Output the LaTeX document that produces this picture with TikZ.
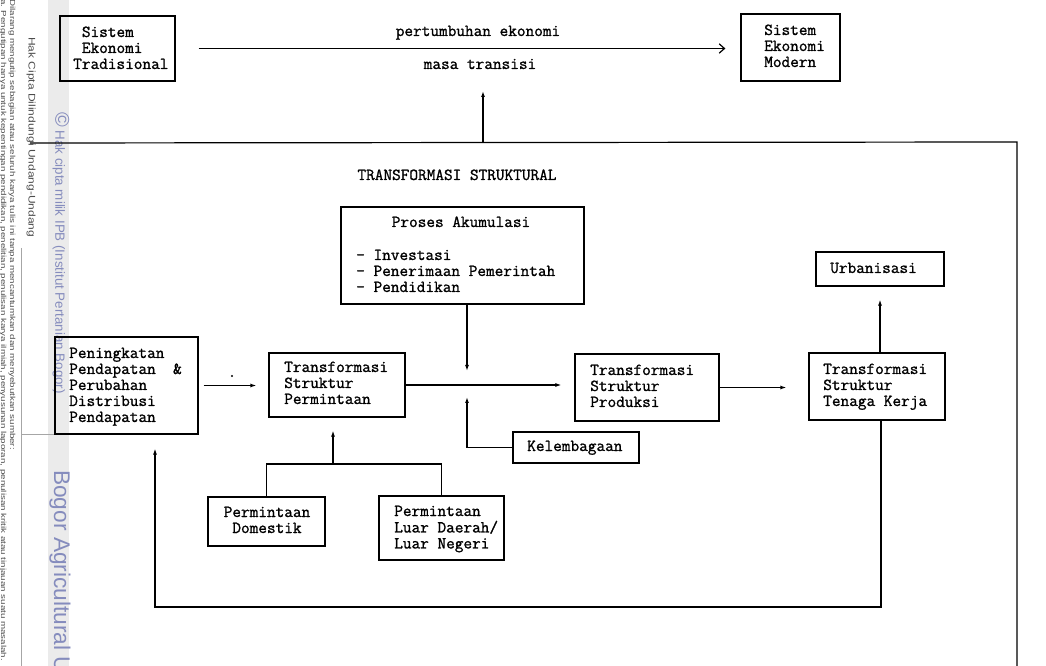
\documentclass[tikz,border=0pt]{standalone}
\usepackage{fontspec}
\newfontfamily\wmfont{Liberation Sans}
\newfontfamily\dgmono{Latin Modern Mono}[FakeBold=1.2]
\usetikzlibrary{arrows.meta,fit,calc}
\newcommand\dgfont{\dgmono\fontsize{12.6}{12}\selectfont}
\newcommand\ltab[1]{\begin{tabular}[t]{@{}l@{}}#1\end{tabular}}
\newcommand\ctab[1]{\begin{tabular}[t]{@{}c@{}}#1\end{tabular}}
\newcommand\squash[2]{\scalebox{1}[#1]{#2}}
\definecolor{wmblue}{rgb}{0.52,0.55,0.74}
\definecolor{wmgray}{gray}{0.3}
\tikzset{
 box/.style={draw, line width=0.9pt, inner sep=0pt},
 txt/.style={font=\dgfont, inner sep=0pt, anchor=base west},
 ctxt/.style={font=\dgfont, inner sep=0pt, anchor=base},
 conn/.style={line width=0.9pt},
 arr/.style={conn, -{Latex[length=4.5pt,width=3pt]}},
 wm/.style={font=\wmfont\fontsize{7.3}{8}\selectfont, text=wmgray, rotate=-90, anchor=west, inner sep=0pt},
}
\begin{document}
\begin{tikzpicture}[x=0.75pt,y=-0.75pt]
\useasboundingbox (0,0) rectangle (1046,666);
% watermark strip
\begin{scope}
\clip (0,0) rectangle (1046,666);
\fill[black!8] (48,0) rectangle (69,666);
\node[wm, font=\wmfont\fontsize{9}{9}\selectfont] (wm1) at (31,37) {\squash{0.8}{Hak Cipta Dilindungi Undang-Undang}};
\node[wm] (wm2) at (12,-1) {\squash{0.75}{Dilarang mengutip sebagian atau seluruh karya tulis ini tanpa mencantumkan dan menyebutkan sumber:}};
\node[wm] (wm3) at (3,-1) {\squash{0.75}{a. Pengutipan hanya untuk kepentingan pendidikan, penelitian, penulisan karya ilmiah, penyusunan laporan, penulisan kritik atau tinjauan suatu masalah.}};
\node[wm, font=\wmfont\fontsize{10}{10}\selectfont, text=wmblue] (wm4) at (61,112) {{\fontsize{15}{15}\selectfont\textcopyright}\ Hak cipta milik IPB (Institut Pertanian Bogor)};
\node[wm, font=\wmfont\fontsize{17}{17}\selectfont, text=wmblue] (wm5) at (60,470) {Bogor Agricultural University};
\draw[gray!70, line width=0.5pt] (21,248) coordinate (wl1) -- (21,666) coordinate (wl2);
\draw[gray!70, line width=0.5pt] (21,434) coordinate (wl3) -- (55,434) coordinate (wl4);
\end{scope}

% top level
\node[box, fit={(60,16) (175,81)}] (trad) {};
\node[box, fit={(741,14) (840,81)}] (modern) {};
\node[txt] (tradT) at (73,37) {\ltab{~Sistem\\~Ekonomi\\Tradisional}};
\node[txt] (modT) at (764,35) {\ltab{Sistem\\Ekonomi\\Modern}};
\draw[conn, -{Straight Barb[length=4pt,width=7pt]}, shorten <=17.25pt, shorten >=11.25pt] (trad.east) -- (modern.west |- trad.east);
\node[ctxt] (pe) at (478,36) {pertumbuhan ekonomi};
\node[ctxt] (mt) at (480,69) {masa transisi};

% frame
\coordinate (f1) at (30,143);
\coordinate (fr) at (483,143);
\coordinate (f2) at (1017,142);
\coordinate (f3) at (1017,666);
\draw[conn] (f1) -- (f2) -- (f3);
\coordinate (upT) at (483,91);
\draw[arr] (fr) -- (upT);

\node[ctxt] (ts) at (457,180) {TRANSFORMASI STRUKTURAL};

% boxes
\node[box, fit={(341,207) (584,304)}] (proses) {};
\node[ctxt] (prosesT) at (461,227) {Proses Akumulasi};
\node[txt] (prosesL) at (356,260) {\ltab{- Investasi\\- Penerimaan Pemerintah\\- Pendidikan}};

\node[box, fit={(816,252) (944,286)}] (urb) {};
\node[txt] (urbT) at (830,273) {Urbanisasi};

\node[box, fit={(55,337) (198,434)}] (pen) {};
\node[txt] (penT) at (69,358) {\ltab{Peningkatan\\Pendapatan~~\&\\Perubahan\\Distribusi\\Pendapatan}};

\node[box, fit={(269,353) (405,417)}] (perm) {};
\node[txt] (permT) at (284,372) {\ltab{Transformasi\\Struktur\\Permintaan}};

\node[box, fit={(575,354) (719,421)}] (prod) {};
\node[txt] (prodT) at (590,375) {\ltab{Transformasi\\Struktur\\Produksi}};

\node[box, fit={(809,353) (945,420)}] (tk) {};
\node[txt] (tkT) at (823,374) {\ltab{Transformasi\\Struktur\\Tenaga Kerja}};

\node[box, fit={(513,432) (639,463)}] (kel) {};
\node[txt] (kelT) at (527,451) {Kelembagaan};

\node[box, fit={(208,497) (325,546)}] (dom) {};
\node[ctxt] (domT) at (267,517) {\ctab{Permintaan\\Domestik}};

\node[box, fit={(379,496) (504,560)}] (luar) {};
\node[txt] (luarT) at (394,516) {\ltab{Permintaan\\Luar Daerah/\\Luar Negeri}};

% stray dot
\fill (232,376) circle (0.9pt);

% connectors
\draw[arr, shorten <=3.75pt, shorten >=9pt] (pen.east) -- (perm.west |- pen.east);
\draw[arr, shorten >=9.75pt] (perm.east) -- (prod.west |- perm.east);
\draw[arr, shorten >=16.5pt] (prod.east) -- (tk.west |- prod.east);
\draw[arr, shorten >=9.75pt] (tk.north -| urb.south) -- (urb.south);

\coordinate (jn) at (467,385);
\draw[arr, shorten >=10.5pt] (proses.south -| jn) -- (jn);
\draw[arr, shorten >=9pt] (kel.west) -- (kel.west -| jn) -- (jn);

\coordinate (tr) at (333,464);
\draw[conn] (dom.north) |- (tr) -| (luar.north);
\draw[arr, shorten >=9.75pt] (tr) -- (perm.south -| tr);

\coordinate (fbR) at (881,607);
\coordinate (fbL) at (155,607);
\draw[arr, shorten >=10.5pt] (tk.south -| fbR) -- (fbR) -- (fbL) -- (pen.south -| fbL);
\end{tikzpicture}
\end{document}
